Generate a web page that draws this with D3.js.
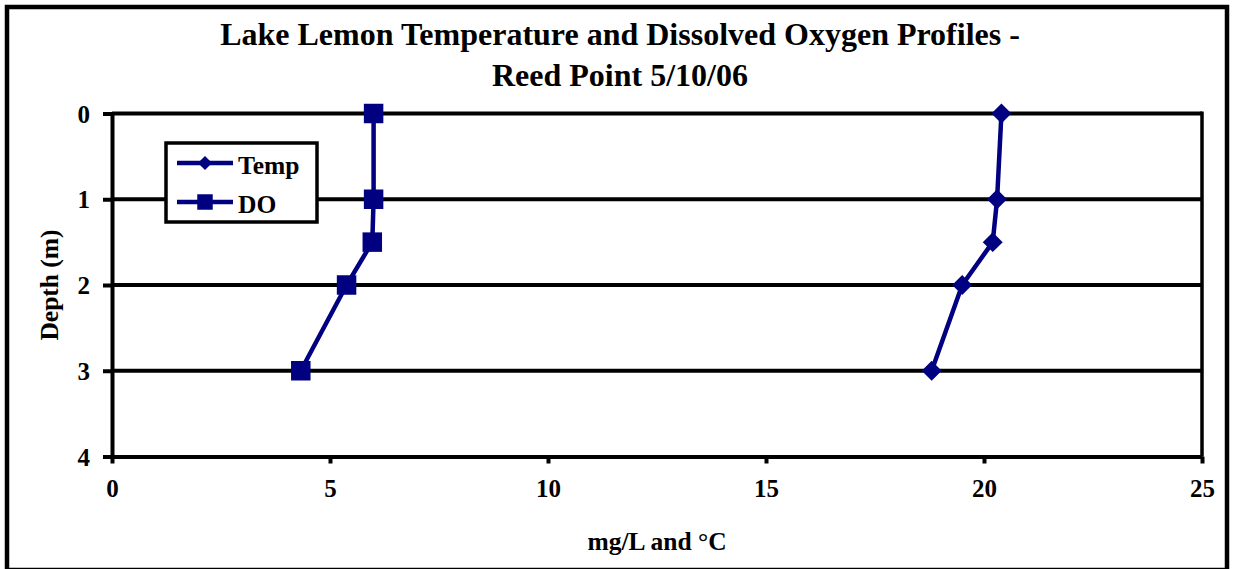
<!DOCTYPE html>
<html>
<head>
<meta charset="utf-8">
<script src="https://d3js.org/d3.v7.min.js"></script>
<style>
  body { margin: 0; background: #fff; }
  svg text { font-family: "Times New Roman", Times, "Liberation Serif", "Nimbus Roman", "DejaVu Serif", serif; font-weight: bold; fill: #000; }
</style>
</head>
<body>
<div id="my_dataviz"></div>
<script>

// data
var depths = [0, 1, 1.5, 2, 3];
var tempValues = [20.4, 20.3, 20.2, 19.5, 18.8];
var doValues = [6.0, 6.0, 5.97, 5.38, 4.33];
var seriesNames = ["Temp", "DO"];
var xTicks = [0, 5, 10, 15, 20, 25];
var yTicks = [0, 1, 2, 3, 4];
var titleLines = ["Lake Lemon Temperature and Dissolved Oxygen Profiles -", "Reed Point 5/10/06"];

var width = 1233,
    height = 569;
var plot = { left: 112, right: 1202, top: 113.5, bottom: 456.5 };
var navy = "#000080";
var serif = "'Times New Roman', Times, 'Liberation Serif', 'Nimbus Roman', 'DejaVu Serif', serif";

var svg = d3.select("#my_dataviz")
    .append("svg")
    .attr("width", width)
    .attr("height", height);

// outer chart frame
svg.append("rect")
    .attr("x", 7).attr("y", 7)
    .attr("width", 1220).attr("height", 563)
    .attr("fill", "#fff")
    .attr("stroke", "#000")
    .attr("stroke-width", 4.5);

//////////
// SCALES //
//////////
var x = d3.scaleLinear().domain([0, 25]).range([plot.left, plot.right]);
var y = d3.scaleLinear().domain([0, 4]).range([plot.top, plot.bottom]);

// gridlines at every depth
svg.append("g")
    .selectAll("line")
    .data(yTicks.slice(0, -1))
    .enter()
    .append("line")
    .attr("x1", plot.left).attr("x2", plot.right)
    .attr("y1", function (d) { return y(d); })
    .attr("y2", function (d) { return y(d); })
    .attr("stroke", "#000")
    .attr("stroke-width", 4);

// right border of plot area
svg.append("line")
    .attr("x1", plot.right).attr("x2", plot.right)
    .attr("y1", plot.top - 2).attr("y2", plot.bottom)
    .attr("stroke", "#000")
    .attr("stroke-width", 3.5);

//////////
// AXIS //
//////////
var xAxis = svg.append("g")
    .attr("transform", "translate(0," + plot.bottom + ")")
    .call(d3.axisBottom(x).tickValues(xTicks).tickFormat(d3.format("d"))
        .tickSize(7).tickSizeOuter(0).tickPadding(16));

var yAxis = svg.append("g")
    .attr("transform", "translate(" + plot.left + ",0)")
    .call(d3.axisLeft(y).tickValues(yTicks).tickFormat(d3.format("d"))
        .tickSize(9).tickSizeOuter(0).tickPadding(13));

[xAxis, yAxis].forEach(function (a) {
    a.attr("font-family", null).attr("font-size", null);
    a.select(".domain").attr("stroke", "#000").attr("stroke-width", 4);
    a.selectAll(".tick line").attr("stroke", "#000").attr("stroke-width", 4);
    a.selectAll(".tick text")
        .attr("fill", "#000")
        .style("font-family", serif)
        .style("font-weight", "bold")
        .style("font-size", "25px");
});
yAxis.selectAll(".tick text").attr("dy", "0.34em");
xAxis.selectAll(".tick text").attr("dy", "0.71em");

// axis titles
svg.append("text")
    .attr("text-anchor", "middle")
    .attr("x", (plot.left + plot.right) / 2)
    .attr("y", 550)
    .style("font-size", "25.5px")
    .text("mg/L and \u00B0C");

svg.append("text")
    .attr("text-anchor", "middle")
    .attr("transform", "translate(58," + (plot.top + plot.bottom) / 2 + ") rotate(-90)")
    .style("font-size", "25.5px")
    .text("Depth (m)");

// title
svg.append("g")
    .selectAll("text")
    .data(titleLines)
    .enter()
    .append("text")
    .attr("text-anchor", "middle")
    .attr("x", 620)
    .attr("y", function (d, i) { return 45 + i * 41; })
    .style("font-size", "32px")
    .text(function (d) { return d; });

//////////
// SERIES //
//////////
var line = d3.line()
    .x(function (d) { return x(d.v); })
    .y(function (d) { return y(d.depth); });

var series = [
    { name: seriesNames[0], values: tempValues, shape: "diamond" },
    { name: seriesNames[1], values: doValues, shape: "square" }
];

var diamond = d3.symbol().type(d3.symbolSquare).size(200);
var square = d3.symbol().type(d3.symbolSquare).size(380);

series.forEach(function (s) {
    var pts = depths.map(function (dp, i) { return { depth: dp, v: s.values[i] }; });
    svg.append("path")
        .datum(pts)
        .attr("fill", "none")
        .attr("stroke", navy)
        .attr("stroke-width", 4.5)
        .attr("d", line);
    svg.append("g")
        .selectAll("path")
        .data(pts)
        .enter()
        .append("path")
        .attr("fill", navy)
        .attr("d", s.shape == "diamond" ? diamond : square)
        .attr("transform", function (d) {
            return "translate(" + x(d.v) + "," + y(d.depth) + ")" + (s.shape == "diamond" ? " rotate(45)" : "");
        });
});

//////////
// LEGEND //
//////////
var legend = svg.append("g");
legend.append("rect")
    .attr("x", 166).attr("y", 143)
    .attr("width", 151).attr("height", 79)
    .attr("fill", "#fff")
    .attr("stroke", "#000")
    .attr("stroke-width", 3.5);

var legendRows = [163, 202];
var legDiamond = d3.symbol().type(d3.symbolSquare).size(100);
var legSquare = d3.symbol().type(d3.symbolSquare).size(240);

series.forEach(function (s, i) {
    var ly = legendRows[i];
    legend.append("line")
        .attr("x1", 177).attr("x2", 233)
        .attr("y1", ly).attr("y2", ly)
        .attr("stroke", navy)
        .attr("stroke-width", 4.5);
    legend.append("path")
        .attr("fill", navy)
        .attr("d", s.shape == "diamond" ? legDiamond : legSquare)
        .attr("transform", "translate(205," + ly + ")" + (s.shape == "diamond" ? " rotate(45)" : ""));
    legend.append("text")
        .attr("x", 238)
        .attr("y", ly + 11)
        .style("font-size", "25.5px")
        .text(s.name);
});

</script>
</body>
</html>
